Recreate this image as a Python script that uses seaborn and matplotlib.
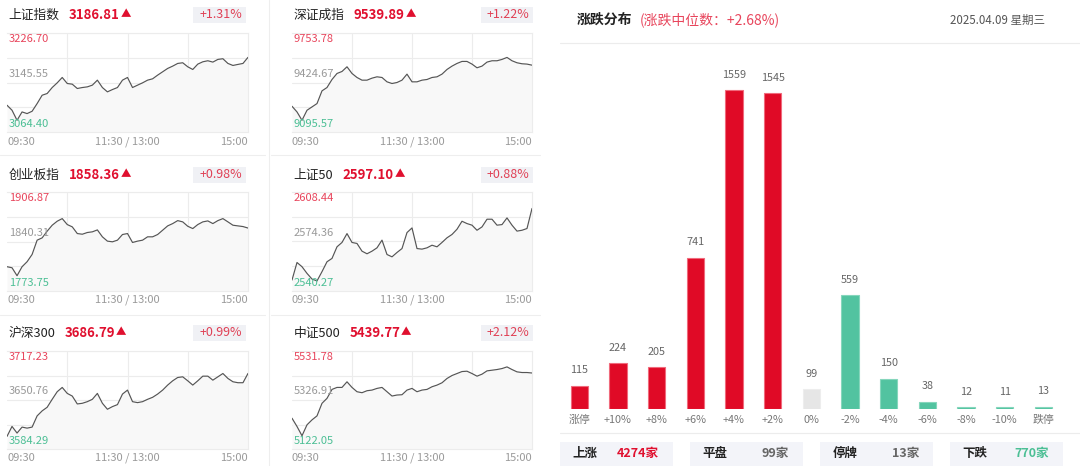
import numpy as np
import pandas as pd
import seaborn as sns
import matplotlib
matplotlib.use("Agg")
import matplotlib.pyplot as plt
from matplotlib.lines import Line2D
from matplotlib.patches import Rectangle

sns.set_theme(style="white")
plt.rcParams["font.family"] = ["Noto Sans CJK SC", "DejaVu Sans"]
plt.rcParams["axes.unicode_minus"] = False

W, H = 1080, 466

# ---------------- data ----------------
minutes = list(range(0, 241, 5))          # 09:30 .. 15:00, lunch break removed

index_names = ["上证指数", "深证成指", "创业板指", "上证50", "沪深300", "中证500"]
index_last = [3186.81, 9539.89, 1858.36, 2597.10, 3686.79, 5439.77]
index_pct = ["+1.31%", "+1.22%", "+0.98%", "+0.88%", "+0.99%", "+2.12%"]
axis_high = [3226.70, 9753.78, 1906.87, 2608.44, 3717.23, 5531.78]
axis_mid = [3145.55, 9424.67, 1840.31, 2574.36, 3650.76, 5326.91]
axis_low = [3064.40, 9095.57, 1773.75, 2540.27, 3584.29, 5122.05]
time_labels = ["09:30", "11:30 / 13:00", "15:00"]

sh_comp = [3108.3, 3100.1, 3083.6, 3097.3, 3094.6, 3098.4, 3111.0, 3124.7, 3127.5, 3137.3,
           3145.0, 3153.8, 3143.9, 3142.8, 3135.7, 3137.3, 3138.4, 3141.2, 3149.4, 3137.3,
           3130.2, 3134.0, 3137.3, 3149.4, 3153.8, 3137.3, 3141.2, 3145.0, 3149.4, 3151.6,
           3157.6, 3163.1, 3168.6, 3172.4, 3176.8, 3177.9, 3171.3, 3166.9, 3175.7, 3179.5,
           3181.2, 3179.0, 3183.4, 3184.5, 3176.8, 3173.5, 3175.2, 3176.8, 3186.8]
sz_comp = [9266.8, 9229.0, 9173.4, 9240.1, 9262.4, 9284.6, 9369.1, 9391.3, 9444.7, 9484.7,
           9498.0, 9529.2, 9484.7, 9458.0, 9440.2, 9440.2, 9453.6, 9462.5, 9458.0, 9429.1,
           9418.0, 9424.7, 9440.2, 9480.3, 9429.1, 9429.1, 9440.2, 9444.7, 9458.0, 9462.5,
           9480.3, 9511.4, 9533.6, 9551.4, 9564.8, 9564.8, 9547.0, 9522.5, 9533.6, 9560.3,
           9569.2, 9569.2, 9578.1, 9591.4, 9569.2, 9555.9, 9549.2, 9547.0, 9539.9]
chinext = [1806.4, 1805.0, 1794.3, 1806.4, 1813.1, 1822.9, 1842.1, 1845.2, 1854.2, 1862.2,
           1867.6, 1871.1, 1863.1, 1860.0, 1851.0, 1850.1, 1852.4, 1853.3, 1855.9, 1846.6,
           1840.8, 1839.9, 1842.1, 1849.7, 1851.0, 1839.0, 1840.8, 1842.1, 1846.6, 1846.6,
           1849.7, 1855.5, 1861.3, 1864.4, 1868.4, 1866.7, 1860.8, 1857.7, 1863.1, 1866.7,
           1868.0, 1864.4, 1868.4, 1871.1, 1866.7, 1862.2, 1861.3, 1860.4, 1858.4]
sse50 = [2547.8, 2559.9, 2557.0, 2552.4, 2548.5, 2547.2, 2553.6, 2560.4, 2562.7, 2570.7,
         2573.7, 2579.8, 2573.7, 2573.0, 2567.7, 2565.9, 2567.7, 2570.0, 2575.3, 2565.4,
         2563.8, 2566.8, 2569.5, 2580.5, 2583.7, 2569.5, 2569.1, 2570.0, 2571.8, 2570.7,
         2573.7, 2576.9, 2579.2, 2582.8, 2588.3, 2586.7, 2585.6, 2582.1, 2584.4, 2589.7,
         2589.7, 2585.6, 2586.0, 2590.6, 2585.6, 2581.5, 2582.1, 2583.3, 2597.1]
csi300 = [3601.4, 3614.9, 3605.9, 3614.0, 3612.6, 3614.0, 3629.2, 3636.0, 3640.9, 3651.7,
          3662.0, 3667.8, 3659.7, 3656.1, 3645.4, 3646.3, 3648.5, 3651.7, 3659.7, 3646.3,
          3638.2, 3641.8, 3644.5, 3658.8, 3664.2, 3648.5, 3647.2, 3648.5, 3651.7, 3654.4,
          3658.8, 3664.2, 3671.0, 3676.8, 3681.3, 3682.2, 3676.8, 3671.0, 3676.8, 3683.1,
          3683.1, 3677.7, 3682.2, 3686.7, 3680.0, 3675.5, 3674.2, 3674.2, 3686.8]
csi500 = [5250.8, 5216.2, 5177.4, 5223.1, 5243.8, 5260.5, 5313.1, 5333.8, 5371.2, 5379.5,
          5379.5, 5403.0, 5379.5, 5361.5, 5357.4, 5365.7, 5368.4, 5375.4, 5379.5, 5361.5,
          5343.5, 5347.7, 5349.0, 5368.4, 5375.4, 5361.5, 5368.4, 5371.2, 5382.3, 5389.2,
          5398.9, 5416.9, 5429.3, 5437.6, 5445.9, 5447.3, 5437.6, 5426.6, 5434.9, 5448.7,
          5451.5, 5454.3, 5458.4, 5465.3, 5454.3, 5444.6, 5441.8, 5441.8, 5439.8]

bucket_labels = ["涨停", "+10%", "+8%", "+6%", "+4%", "+2%", "0%",
                 "-2%", "-4%", "-6%", "-8%", "-10%", "跌停"]
bucket_counts = [115, 224, 205, 741, 1559, 1545, 99, 559, 150, 38, 12, 11, 13]

summary_labels = ["上涨", "平盘", "停牌", "下跌"]
summary_counts = ["4274家", "99家", "13家", "770家"]

# ---------------- colours ----------------
RED = "#e00a26"
RED_TXT = "#e0102f"
RED_LT = "#e8455c"
GREEN = "#52c3a0"
GREEN_TXT = "#4cbf95"
GREY_BAR = "#e6e6e6"
DARK = "#222222"
GRID = "#ececec"

fig = plt.figure(figsize=(W / 100, H / 100), dpi=100)
fig.patch.set_facecolor("white")
renderer = fig.canvas.get_renderer()


def fx(px):
    return px / W


def fy(py):
    return 1 - py / H


def add_ax(x0, y0, x1, y1):
    return fig.add_axes([fx(x0), fy(y1), (x1 - x0) / W, (y1 - y0) / H])


def hline(x0, x1, y, color=GRID, lw=0.8):
    fig.add_artist(Line2D([fx(x0), fx(x1)], [fy(y), fy(y)], color=color, lw=lw))


def box(x0, y0, x1, y1, color):
    fig.add_artist(Rectangle((fx(x0), fy(y1)), (x1 - x0) / W, (y1 - y0) / H,
                             transform=fig.transFigure, facecolor=color,
                             edgecolor="none", zorder=0))


# ---------------- index mini charts ----------------
series = [sh_comp, sz_comp, chinext, sse50, csi300, csi500]
col_x = [(7, 248), (292, 532)]
row_y = [(33, 132), (192, 291), (351, 449)]
title_y = [15, 175, 333]
time_y = [142, 300, 458]
pct_box = [(193, 246), (481, 533)]

for i, vals in enumerate(series):
    r, c = divmod(i, 2)
    x0, x1 = col_x[c]
    y0, y1 = row_y[r]
    lo, mid, hi = axis_low[i], axis_mid[i], axis_high[i]

    ax = add_ax(x0, y0, x1, y1)
    df = pd.DataFrame({"minute": minutes, "value": vals})
    ax.fill_between(df["minute"], df["value"], lo, color="#f8f8f8", lw=0, zorder=1)
    sns.lineplot(data=df, x="minute", y="value", ax=ax, color="#555555",
                 linewidth=0.85, zorder=3)
    ax.set_xlim(0, 240)
    ax.set_ylim(lo, hi)
    ax.set_xticks([60, 120, 180])
    ax.set_yticks(np.linspace(lo, hi, 5))
    ax.grid(True, color=GRID, lw=0.8, zorder=0)
    ax.set_axisbelow(True)
    ax.tick_params(length=0, labelbottom=False, labelleft=False)
    ax.set_xlabel("")
    ax.set_ylabel("")
    for s in ax.spines.values():
        s.set_color(GRID)
        s.set_linewidth(0.8)
    ax.spines["left"].set_visible(False)

    ax.text(0.007, 0.94, f"{hi:.2f}", transform=ax.transAxes, color=RED_LT,
            fontsize=8, va="center", ha="left", zorder=5)
    ax.text(0.007, 0.59, f"{mid:.2f}", transform=ax.transAxes, color="#9a9a9a",
            fontsize=8, va="center", ha="left", zorder=5)
    ax.text(0.007, 0.085, f"{lo:.2f}", transform=ax.transAxes, color=GREEN_TXT,
            fontsize=8, va="center", ha="left", zorder=5)

    # time axis labels
    fig.text(fx(x0), fy(time_y[r]), time_labels[0], fontsize=8, color="#9a9a9a",
             ha="left", va="center")
    fig.text(fx((x0 + x1) / 2), fy(time_y[r]), time_labels[1], fontsize=8,
             color="#9a9a9a", ha="center", va="center")
    fig.text(fx(x1), fy(time_y[r]), time_labels[2], fontsize=8, color="#9a9a9a",
             ha="right", va="center")

    # header: name, last price, pct change
    name_x = x0 + 1.5
    t = fig.text(fx(name_x), fy(title_y[r]), index_names[i], fontsize=9.2,
                 color=DARK, ha="left", va="center")
    w = t.get_window_extent(renderer).width
    p = fig.text(fx(name_x + w + 9), fy(title_y[r]), f"{index_last[i]:.2f}",
                 fontsize=9.5, fontweight="bold", color=RED_TXT, ha="left", va="center")
    pw = p.get_window_extent(renderer).width
    fig.text(fx(name_x + w + 10 + pw), fy(title_y[r] - 0.5), "▲", fontsize=7.5,
             color=RED_TXT, ha="left", va="center")
    bx0, bx1 = pct_box[c]
    box(bx0, title_y[r] - 8, bx1, title_y[r] + 8, "#f0f1f5")
    fig.text(fx(bx1 - 4), fy(title_y[r]), index_pct[i], fontsize=9,
             color="#e04055", ha="right", va="center")

# separators on the left
for y in (155, 315):
    hline(0, 265, y, color="#eeeeee")
    hline(271, 540, y, color="#eeeeee")
fig.add_artist(Line2D([fx(268.5), fx(268.5)], [0, 1], color="#eeeeee", lw=0.8))

# ---------------- right: distribution of changes ----------------
fig.text(fx(577), fy(20), "涨跌分布", fontsize=10, fontweight="bold", color=DARK,
         ha="left", va="center")
fig.text(fx(640), fy(20), "(涨跌中位数：+2.68%)", fontsize=10, color=RED_LT,
         ha="left", va="center")
fig.text(fx(1045), fy(20), "2025.04.09 星期三", fontsize=8.3, color="#555555",
         ha="right", va="center")
hline(560, 1080, 43.3)

bar_colors = {}
edge_colors = []
for k, lab in enumerate(bucket_labels):
    if k < 6:
        bar_colors[lab] = RED
        edge_colors.append("#f06a7c")
    elif k == 6:
        bar_colors[lab] = GREY_BAR
        edge_colors.append("#ededed")
    else:
        bar_colors[lab] = GREEN
        edge_colors.append("#86d6bc")

bx = add_ax(560, 50, 1062.7, 409.3)
df_b = pd.DataFrame({"bucket": bucket_labels, "count": bucket_counts})
sns.barplot(data=df_b, x="bucket", y="count", hue="bucket", palette=bar_colors,
            dodge=False, legend=False, width=0.45, saturation=1, ax=bx)
for patch, ec in zip(bx.patches, edge_colors):
    patch.set_edgecolor(ec)
    patch.set_linewidth(0.8)
bx.set_xlim(-0.5, len(bucket_labels) - 0.5)
bx.set_ylim(0, 1755)
bx.set_xlabel("")
bx.set_ylabel("")
bx.set_yticks([])
bx.tick_params(axis="x", length=0, pad=4, labelsize=7.8, labelcolor="#777777")
for s in bx.spines.values():
    s.set_visible(False)
for k, v in enumerate(bucket_counts):
    bx.annotate(str(v), (k, v), xytext=(0, 11), textcoords="offset points",
                ha="center", va="center", fontsize=7.8, color="#666666")

hline(560, 1080, 432.7)

# ---------------- summary boxes ----------------
box_left = [560, 690, 820, 950]
box_w = 112.5
count_colors = [RED_TXT, "#666666", "#666666", GREEN_TXT]
for k, lab in enumerate(summary_labels):
    l = box_left[k]
    box(l, 441.7, l + box_w, 470, "#f3f4f9")
    fig.text(fx(l + 12.5), fy(453.5), lab, fontsize=9, fontweight="bold", color=DARK,
             ha="left", va="center")
    fig.text(fx(l + box_w - 13.5), fy(453.5), summary_counts[k], fontsize=9,
             fontweight="bold", color=count_colors[k], ha="right", va="center")

fig.savefig("out.png", dpi=100, facecolor="white")
